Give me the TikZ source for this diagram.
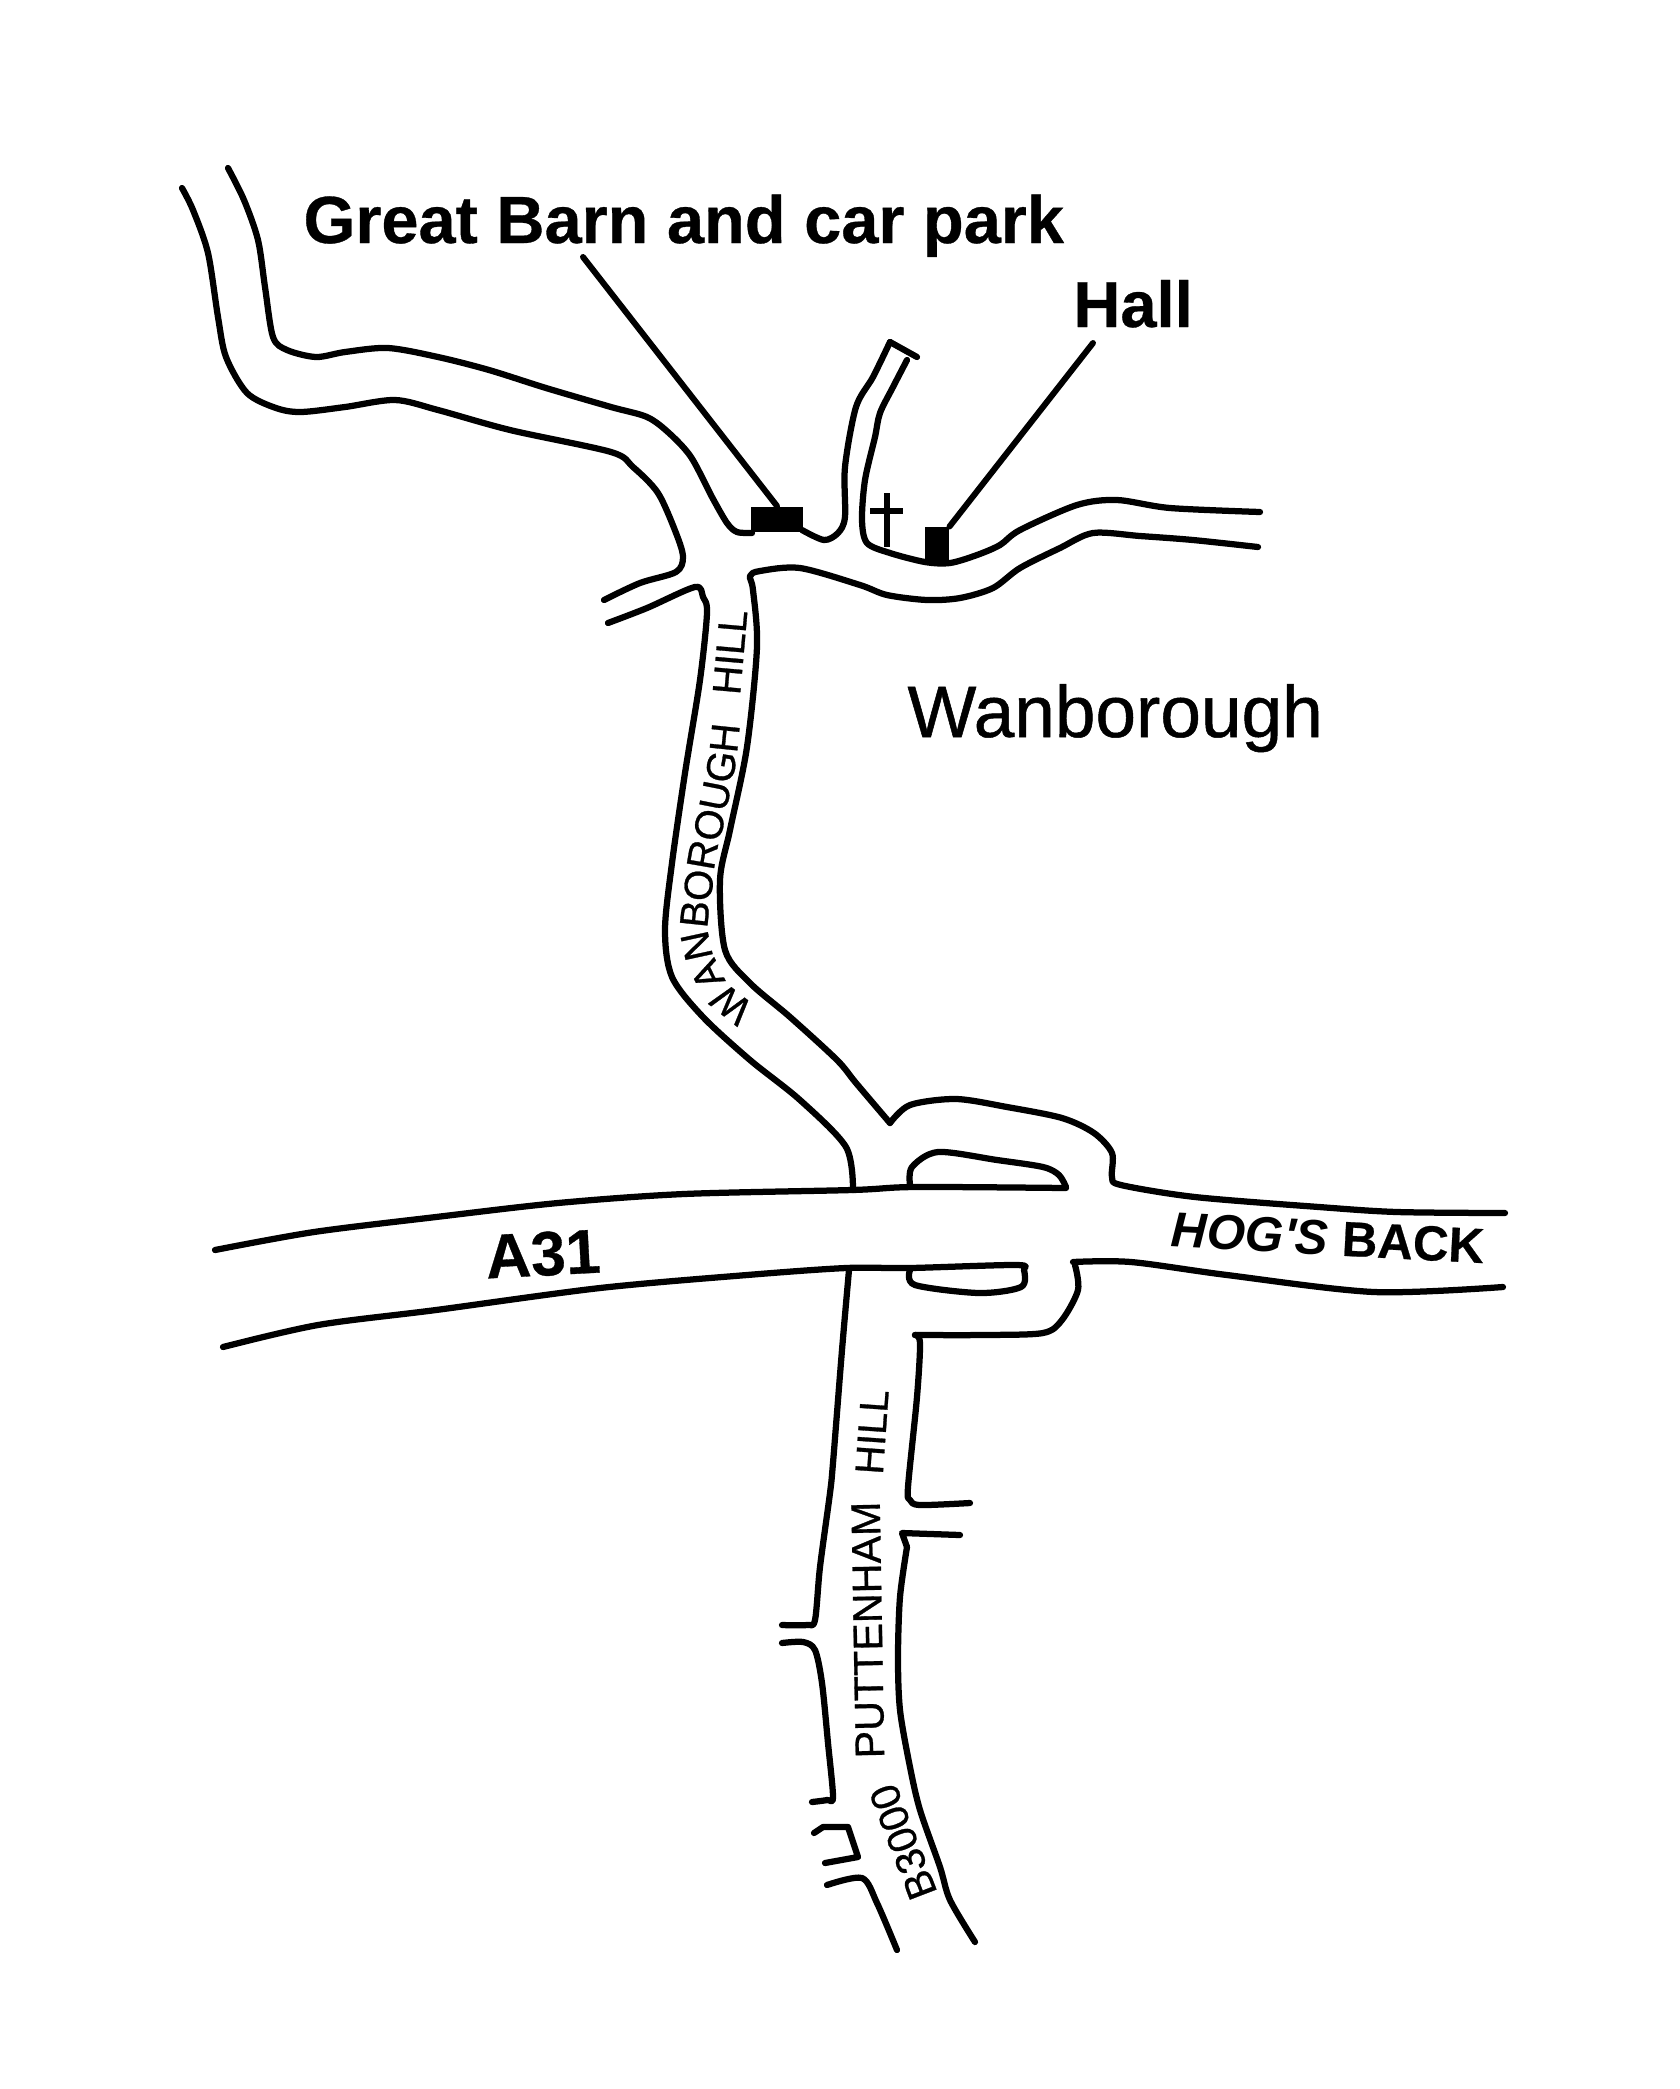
\documentclass[tikz,border=0pt]{standalone}
\usepackage{fontspec}
\setmainfont{Liberation Sans}[BoldFeatures={FakeBold=0.5}]
\newfontfamily\heavyfont{Liberation Sans}[FakeBold=0.7]
\usetikzlibrary{decorations.text}
\newcommand{\roadfont}{\heavyfont\fontsize{16}{18}\selectfont}
\tikzset{
  road/.style={line width=2.5pt, line cap=round, line join=round},
  leader/.style={line width=2.4pt, line cap=round},
  building/.style={fill=black, inner sep=0pt},
  placebold/.style={font=\bfseries\fontsize{26.7}{30}\selectfont, inner sep=0pt, anchor=base west},
  roadname/.style={font=\heavyfont\fontsize{16.5}{18}\selectfont, inner sep=0pt}
}
\begin{document}
\begin{tikzpicture}[x=0.4pt, y=-0.4pt]
\useasboundingbox (0,0) rectangle (1680,2089);

% Road to the north west, upper edge
\draw[road] plot[smooth, tension=0.5] coordinates {(228,168) (244,200) (258,240) (265,287) (273,337) (287,350) (316,357) (345,352) (388,348) (438,357) (489,370) (546,388) (611,407) (647,417) (669,433) (691,457) (712,497) (727,523) (737,532) (752,533)};
% Road to the north west, lower edge
\draw[road] plot[smooth, tension=0.5] coordinates {(182,188) (193,210) (208,253) (218,317) (226,357) (247,393) (276,408) (301,412) (345,407) (395,400) (438,410) (510,430) (611,452) (633,467) (658,493) (676,533) (683,557) (676,572) (640,583) (604,600)};

% Lane by the church
\draw[road] plot[smooth, tension=0.5] coordinates {(802,530) (824,540) (838,533) (845,517) (845,467) (856,407) (873,377) (890,342)};
\draw[road] (890,342) -- (917,357);
\draw[road] plot[smooth, tension=0.5] coordinates {(907,360) (893,387) (880,413) (875,437) (865,480) (862,520) (867,543) (890,553) (925,562) (950,563) (977,555) (1000,545) (1020,530) (1077,505) (1117,500) (1170,508) (1260,512)};

% Village street, lower edge and Wanborough Hill
\draw[road] plot[smooth, tension=0.5] coordinates {(1258,547) (1193,540) (1140,536) (1093,533) (1060,548) (1020,568) (993,588) (960,598) (927,600) (887,595) (860,585) (800,568) (760,571) (750,576) (753,590) (757,647) (747,747) (730,830) (720,880) (725,950) (750,983) (790,1017) (837,1060) (856,1083) (890,1123)};
\draw[road] plot[smooth, tension=0.5] coordinates {(608,623) (647,608) (695,587) (703,597) (707,613) (700,680) (685,773) (672,863) (665,930) (672,977) (703,1017) (750,1060) (800,1100) (846,1147) (853,1190)};

% Slip road and Hog's Back
\draw[road] plot[smooth, tension=0.5] coordinates {(890,1123) (910,1105) (956,1099) (1007,1107) (1062,1118) (1094,1133) (1112,1153) (1112,1177) (1121,1185) (1195,1197) (1319,1207) (1397,1212) (1505,1213)};
\draw[road] plot[smooth, tension=0.5] coordinates {(1073,1262) (1131,1262) (1227,1275) (1374,1292) (1503,1287)};
\draw[road] plot[smooth, tension=0.5] coordinates {(1075,1265) (1078,1290) (1062,1320) (1043,1333) (984,1335) (915,1335)};

% A31
\draw[road] plot[smooth, tension=0.5] coordinates {(215,1250) (314,1232) (436,1217) (558,1203) (684,1194) (852,1190) (915,1187) (1066,1188)};
\draw[road] plot[smooth, tension=0.5] coordinates {(223,1347) (318,1325) (436,1310) (600,1288) (747,1275) (846,1268) (910,1268) (1016,1265) (1024,1270) (1021,1287) (979,1293) (915,1285) (910,1270)};
% Island north of the A31
\draw[road] plot[smooth, tension=0.5] coordinates {(910,1185) (912,1167) (938,1152) (997,1160) (1043,1167) (1059,1175) (1066,1187)};

% Puttenham Hill, west side
\draw[road] plot[smooth, tension=0.5] coordinates {(849,1270) (842,1350) (833,1463) (830,1493) (820,1567) (815,1620) (807,1625) (782,1625)};
\draw[road] plot[smooth, tension=0.5] coordinates {(782,1643) (803,1642) (815,1650) (822,1683) (828,1743) (833,1797) (827,1800) (812,1802)};
\draw[road] (814,1833) -- (823,1827) -- (848,1827) -- (858,1857) -- (825,1863);
\draw[road] plot[smooth, tension=0.5] coordinates {(827,1885) (862,1878) (877,1903) (897,1950)};
% Puttenham Hill, east side
\draw[road] plot[smooth, tension=0.5] coordinates {(915,1335) (920,1343) (917,1397) (908,1487) (910,1500) (920,1505) (970,1503)};
\draw[road] (960,1535) -- (902,1533) -- (907,1547);
\draw[road] plot[smooth, tension=0.5] coordinates {(907,1547) (900,1597) (898,1657) (900,1710) (910,1767) (920,1810) (940,1867) (950,1900) (975,1942)};

% Buildings
\node[building, minimum width=20.5pt, minimum height=10pt] (barn) at (777,519) {};
\node[building, minimum width=9.6pt, minimum height=14.4pt] (hall) at (937,545) {};
\draw[line width=2.6pt] (887,493) -- (887,547);
\draw[line width=2.6pt] (870,511) -- (903,511);

% Labels
\node[placebold] (barnlabel) at (303,243) {Great Barn and car park};
\node[placebold, font=\bfseries\fontsize{26}{30}\selectfont] (halllabel) at (1073,327) {Hall};
\node[font=\heavyfont\fontsize{29.2}{32}\selectfont, inner sep=0pt, anchor=base west] (village) at (907,737) {Wanborough};
\node[font=\bfseries\fontsize{25}{30}\selectfont, inner sep=0pt, rotate=3] (aroad) at (543,1254) {A31};
\node[font=\bfseries\fontsize{19.7}{24}\selectfont, inner sep=0pt, rotate=-3] (hogsback) at (1328,1238) {\textit{HOG\textquotesingle S} BACK};
\node[roadname, rotate=91] (putten) at (868,1630) {PUTTENHAM};
\node[roadname, font=\heavyfont\fontsize{16}{18}\selectfont, rotate=86] (puttenhill) at (872,1432) {HILL};
\node[roadname, rotate=111] (bthree) at (903,1842) {B3000};
\node[roadname, font=\heavyfont\fontsize{16}{18}\selectfont, anchor=base west, rotate=85] (wanhill) at (740,696) {HILL};
\path[decorate, decoration={text along path, text={|\roadfont|WANBOROUGH}, text align=left}] plot[smooth, tension=0.5] coordinates {(755,1005) (728,983) (712,950) (708,923) (712,890) (716,857) (723,827) (729,797) (735,767) (739,733) (741,700) (746,615)};

% Leaders
\coordinate (barnend) at (583,257);
\coordinate (hallend) at (1093,343);
\draw[leader] (barnend) -- (barn.north);
\draw[leader] (hallend) -- (hall.north east);
\end{tikzpicture}
\end{document}
